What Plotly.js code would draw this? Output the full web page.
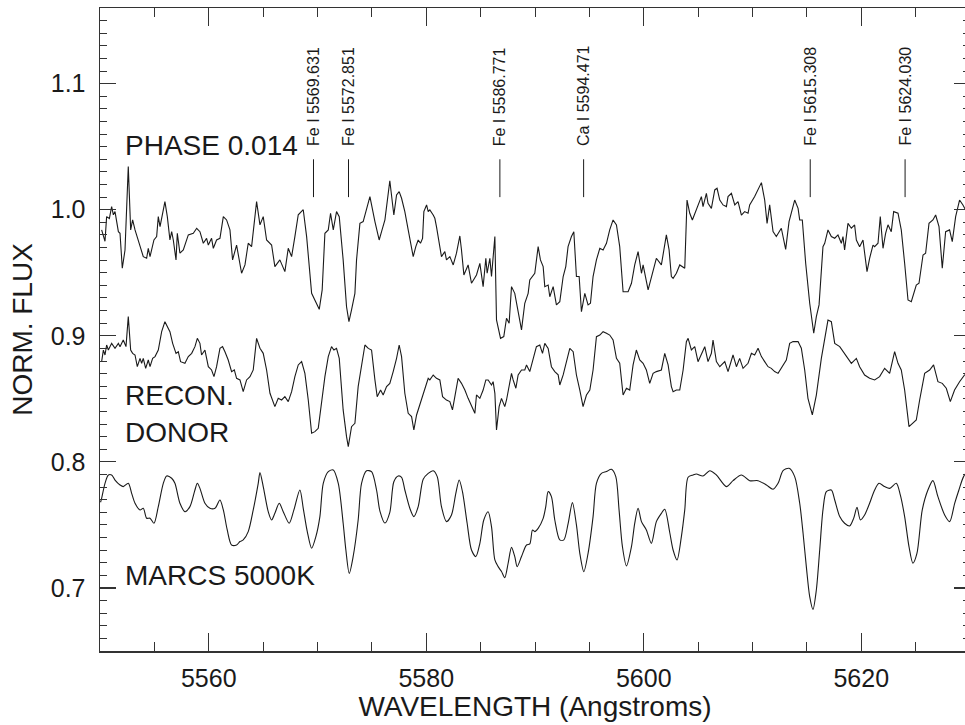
<!DOCTYPE html>
<html><head><meta charset="utf-8">
<script src="https://cdn.plot.ly/plotly-3.0.1.min.js"></script>
<style>html,body{margin:0;padding:0;overflow:hidden;background:#fff;}</style>
</head><body><div id="chart"></div>
<script>
// Observed spectrum at phase 0.014
const wavePhase = [5550.15,5550.46,5550.61,5550.86,5551.07,5551.23,5551.38,5551.69,5551.84,5552.05,5552.30,5552.60,5552.82,5553.00,5553.22,5553.52,5553.68,5553.98,5554.29,5554.44,5554.60,5554.75,5554.96,5555.21,5555.36,5555.52,5555.82,5555.97,5556.19,5556.43,5556.59,5556.74,5556.99,5557.11,5557.35,5557.66,5558.12,5558.58,5558.89,5559.19,5559.50,5559.80,5559.96,5560.26,5560.42,5560.72,5561.03,5561.34,5561.64,5561.95,5562.19,5562.56,5563.02,5563.33,5563.63,5563.94,5564.40,5564.71,5565.01,5565.32,5565.78,5566.08,5566.54,5567.00,5567.31,5567.62,5567.92,5568.23,5568.69,5569.00,5569.46,5570.16,5570.43,5570.68,5570.99,5571.20,5571.45,5571.75,5572.00,5572.36,5572.67,5572.89,5573.13,5573.44,5573.59,5573.90,5574.20,5574.82,5575.28,5575.67,5575.89,5576.20,5576.65,5577.02,5577.27,5577.51,5577.73,5578.03,5578.34,5578.80,5579.04,5579.26,5579.47,5579.66,5579.78,5580.03,5580.18,5580.33,5580.64,5580.79,5580.94,5581.25,5581.40,5581.71,5581.86,5582.17,5582.48,5582.78,5583.09,5583.24,5583.46,5583.85,5584.16,5584.62,5584.93,5585.23,5585.48,5585.60,5585.85,5586.00,5586.31,5586.46,5586.83,5587.13,5587.38,5587.62,5587.84,5588.14,5588.45,5588.76,5589.06,5589.37,5589.52,5589.83,5589.98,5590.29,5590.50,5590.75,5590.90,5591.21,5591.36,5591.67,5591.82,5591.97,5592.28,5592.59,5592.83,5593.04,5593.35,5593.57,5593.81,5594.06,5594.27,5594.58,5594.88,5595.10,5595.34,5595.65,5595.96,5596.26,5596.57,5596.87,5597.18,5597.49,5597.79,5598.10,5598.56,5598.87,5599.17,5599.48,5599.79,5599.94,5600.40,5600.86,5601.16,5601.62,5602.08,5602.33,5602.54,5602.70,5603.00,5603.31,5603.77,5603.98,5604.23,5604.47,5604.69,5604.99,5605.30,5605.45,5605.76,5605.91,5606.22,5606.53,5606.74,5606.99,5607.29,5607.60,5607.75,5608.06,5608.37,5608.67,5608.98,5609.28,5609.59,5609.74,5610.20,5610.82,5611.12,5611.34,5611.58,5611.89,5612.19,5612.65,5613.05,5613.36,5613.88,5614.19,5614.34,5614.58,5614.89,5615.26,5615.63,5615.87,5616.12,5616.48,5616.64,5616.94,5617.25,5617.56,5617.86,5618.17,5618.32,5618.47,5618.78,5619.09,5619.39,5619.55,5619.85,5620.16,5620.53,5620.77,5621.08,5621.23,5621.54,5621.75,5622.00,5622.24,5622.46,5622.76,5622.98,5623.38,5623.68,5623.99,5624.30,5624.60,5625.06,5625.31,5625.68,5625.92,5626.23,5626.59,5626.84,5627.15,5627.45,5627.76,5628.12,5628.37,5628.68,5629.04,5629.35,5629.70,5630.00];
const fluxPhase = [0.984,0.975,0.9945,0.993,1.0024,0.996,0.9985,0.9826,0.9813,0.9536,0.968,1.0342,0.984,0.9919,0.984,0.976,0.9707,0.9628,0.9615,0.9694,0.9628,0.9681,0.976,0.9787,0.9945,0.9866,0.9985,1.0064,0.9945,0.976,0.9826,0.976,0.9602,0.9813,0.9655,0.9681,0.98,0.9813,0.9853,0.9826,0.9734,0.9773,0.972,0.9773,0.9694,0.976,0.9773,0.9945,0.9919,0.984,0.9602,0.972,0.9496,0.9562,0.9734,0.9707,1.0064,0.988,0.9945,0.976,0.972,0.9549,0.9602,0.9509,0.9694,0.9628,0.9787,0.996,1.0,0.9787,0.9337,0.921,0.9364,0.9813,0.984,0.9972,0.984,0.9985,0.9945,0.9602,0.923,0.9113,0.9205,0.9337,0.9602,0.9892,0.9906,1.0104,0.9906,0.976,0.9826,0.992,1.023,0.9958,1.0117,1.0144,1.0091,0.9985,0.984,0.9628,0.9707,0.976,0.9734,0.9773,0.9985,1.0038,0.9985,0.9998,0.9958,0.9932,0.9866,0.9694,0.9628,0.9668,0.9602,0.9628,0.9562,0.9655,0.9792,0.9681,0.9483,0.9562,0.9417,0.9483,0.9575,0.939,0.9615,0.9496,0.9615,0.947,0.9787,0.9126,0.898,0.8994,0.9139,0.9099,0.939,0.9337,0.9179,0.9047,0.9258,0.9337,0.9443,0.9483,0.9496,0.9707,0.9602,0.9549,0.939,0.9403,0.931,0.939,0.9298,0.9245,0.9271,0.947,0.9549,0.9707,0.9787,0.9826,0.947,0.947,0.9192,0.9337,0.9245,0.9258,0.947,0.9602,0.9694,0.9681,0.9734,0.984,0.9919,0.9879,0.9707,0.935,0.935,0.9417,0.9562,0.9668,0.9496,0.9562,0.9364,0.9522,0.9615,0.9562,0.98,0.9681,0.947,0.9456,0.9496,0.9562,0.9536,1.0077,0.9972,0.9919,0.9972,1.0038,1.0104,1.0025,1.013,1.0051,1.0011,1.0157,1.017,1.0077,1.0038,1.0025,1.0104,1.013,1.0038,1.0064,0.9958,0.9985,0.9972,1.0038,1.0104,1.0215,1.0077,0.9892,1.0038,0.9826,0.9787,0.9853,0.9686,0.9906,1.0077,1.0011,0.9919,0.9919,0.9575,0.9258,0.902,0.9152,0.9245,0.9707,0.9734,0.984,0.9787,0.9774,0.98,0.9734,0.9787,0.9681,0.9892,0.9853,0.9879,0.976,0.9707,0.976,0.9509,0.9615,0.972,0.9707,0.9734,0.9945,0.9694,0.9813,0.988,0.9826,0.9985,0.9972,0.984,0.9575,0.9284,0.9271,0.9403,0.9417,0.9641,0.9655,0.9892,0.9919,0.9958,0.9866,0.9536,0.9826,0.984,0.9747,0.9945,1.0077,1.0038,0.998,0.995];

// Reconstructed donor spectrum
const waveRecon = [5550.15,5550.31,5550.46,5550.61,5550.77,5551.07,5551.38,5551.69,5551.84,5552.14,5552.39,5552.60,5552.82,5553.00,5553.22,5553.43,5553.68,5553.83,5553.98,5554.20,5554.44,5554.60,5554.84,5555.06,5555.36,5555.67,5555.97,5556.19,5556.43,5556.68,5556.99,5557.20,5557.41,5557.81,5558.12,5558.43,5558.73,5558.95,5559.19,5559.34,5559.65,5559.96,5560.26,5560.48,5560.72,5561.03,5561.27,5561.49,5561.79,5562.10,5562.35,5562.56,5562.87,5563.17,5563.48,5563.79,5564.09,5564.40,5564.71,5565.01,5565.32,5565.63,5566.08,5566.39,5566.70,5567.00,5567.31,5567.62,5567.92,5568.23,5568.54,5568.84,5569.15,5569.46,5569.76,5570.07,5570.37,5570.68,5570.99,5571.29,5571.51,5571.75,5572.00,5572.36,5572.67,5572.83,5573.13,5573.44,5573.74,5574.05,5574.36,5574.67,5574.97,5575.28,5575.49,5575.80,5576.04,5576.35,5576.65,5576.96,5577.27,5577.51,5577.73,5578.03,5578.34,5578.65,5578.86,5579.11,5579.35,5579.56,5579.87,5580.18,5580.33,5580.64,5580.94,5581.25,5581.50,5581.86,5582.17,5582.41,5582.63,5582.93,5583.24,5583.55,5583.85,5584.16,5584.47,5584.62,5584.93,5585.23,5585.48,5585.69,5586.00,5586.15,5586.31,5586.46,5586.70,5586.92,5587.22,5587.38,5587.62,5587.84,5587.99,5588.24,5588.45,5588.76,5589.06,5589.22,5589.52,5589.83,5590.13,5590.44,5590.69,5590.90,5591.21,5591.51,5591.82,5592.13,5592.28,5592.59,5592.89,5593.20,5593.51,5593.81,5594.12,5594.42,5594.73,5595.04,5595.34,5595.65,5595.96,5596.26,5596.57,5596.87,5597.18,5597.49,5597.79,5598.10,5598.41,5598.71,5599.02,5599.32,5599.63,5599.94,5600.24,5600.55,5600.86,5601.16,5601.62,5601.93,5602.24,5602.54,5602.70,5603.00,5603.31,5603.62,5603.92,5604.08,5604.38,5604.69,5604.99,5605.30,5605.61,5605.91,5606.22,5606.37,5606.68,5606.99,5607.45,5607.75,5608.21,5608.52,5608.82,5609.13,5609.59,5609.90,5610.20,5610.51,5610.82,5611.12,5611.43,5611.73,5612.04,5612.35,5612.81,5613.11,5613.42,5613.73,5614.19,5614.49,5614.80,5615.10,5615.50,5615.87,5616.33,5616.64,5616.94,5617.25,5617.56,5618.02,5618.48,5619.09,5619.55,5619.85,5620.31,5620.77,5621.23,5621.69,5622.15,5622.61,5623.07,5623.38,5623.68,5623.99,5624.39,5624.75,5625.06,5625.37,5625.83,5626.29,5626.65,5627.05,5627.45,5627.82,5628.19,5628.58,5629.04,5629.50,5630.00];
const fluxRecon = [0.8795,0.8887,0.8848,0.8927,0.8887,0.894,0.8901,0.894,0.8914,0.8967,0.8914,0.9152,0.8887,0.8861,0.8848,0.8755,0.8821,0.8782,0.8821,0.8742,0.8808,0.8755,0.8821,0.8835,0.8887,0.9033,0.9112,0.9073,0.9033,0.894,0.8861,0.8874,0.8795,0.8782,0.8835,0.8861,0.8914,0.898,0.894,0.8848,0.8887,0.8755,0.8729,0.8676,0.8755,0.8901,0.8914,0.8874,0.8808,0.8716,0.8729,0.8663,0.865,0.8557,0.865,0.8676,0.8729,0.898,0.8901,0.8861,0.8729,0.8544,0.8438,0.8504,0.8491,0.8517,0.8478,0.8557,0.8676,0.8769,0.8795,0.8702,0.8491,0.8227,0.824,0.8266,0.8491,0.8676,0.8835,0.8914,0.8887,0.8901,0.8821,0.8412,0.82,0.8121,0.8279,0.8306,0.8597,0.8755,0.8927,0.89,0.8887,0.865,0.8517,0.857,0.8531,0.8597,0.8623,0.8716,0.8821,0.8927,0.8835,0.8544,0.8385,0.8359,0.8253,0.8372,0.8438,0.8491,0.857,0.8663,0.865,0.8689,0.8663,0.865,0.8517,0.849,0.8478,0.8412,0.8517,0.8663,0.8623,0.857,0.8504,0.8451,0.8385,0.8531,0.8504,0.857,0.865,0.865,0.861,0.8636,0.8544,0.8253,0.8438,0.8504,0.8438,0.8491,0.861,0.8702,0.865,0.8584,0.869,0.8729,0.8729,0.8769,0.8716,0.8808,0.8914,0.8927,0.8861,0.894,0.89,0.8755,0.8716,0.869,0.861,0.869,0.8795,0.8901,0.8874,0.8689,0.857,0.8438,0.853,0.857,0.8729,0.8993,0.9006,0.9033,0.902,0.9006,0.8967,0.8821,0.8782,0.853,0.8584,0.857,0.8769,0.8887,0.8808,0.8782,0.8729,0.8623,0.8702,0.8716,0.8729,0.8861,0.8769,0.8597,0.8557,0.857,0.857,0.8729,0.8953,0.898,0.8888,0.8914,0.8795,0.8861,0.8914,0.8795,0.8861,0.8967,0.8795,0.8755,0.8795,0.8716,0.8848,0.8755,0.8821,0.8742,0.8782,0.8861,0.8848,0.8901,0.8835,0.8795,0.8755,0.8742,0.8716,0.8702,0.8769,0.8808,0.894,0.8954,0.8954,0.8901,0.8729,0.8504,0.8372,0.853,0.8821,0.8967,0.9125,0.9112,0.894,0.8914,0.8861,0.8782,0.8821,0.8755,0.8689,0.8663,0.865,0.8676,0.8742,0.8702,0.8874,0.8782,0.8729,0.857,0.828,0.8306,0.8332,0.8491,0.8702,0.8729,0.8769,0.8636,0.8623,0.8584,0.8478,0.857,0.8636,0.8689,0.87];

// MARCS 5000K model spectrum
const waveModel = [5550.05,5550.15,5550.46,5550.77,5551.07,5551.38,5551.84,5552.14,5552.60,5552.91,5553.22,5553.68,5553.98,5554.29,5554.60,5554.96,5555.36,5555.82,5556.13,5556.59,5556.89,5557.35,5557.81,5558.27,5558.73,5558.95,5559.19,5559.65,5560.11,5560.57,5561.03,5561.34,5561.70,5562.10,5562.56,5562.87,5563.17,5563.63,5564.09,5564.55,5564.71,5565.01,5565.47,5565.78,5566.08,5566.48,5566.85,5567.40,5567.83,5568.38,5568.69,5569.06,5569.46,5569.85,5570.22,5570.53,5570.99,5571.45,5571.91,5572.36,5572.61,5572.92,5573.28,5573.74,5574.05,5574.51,5574.97,5575.43,5575.74,5576.20,5576.65,5577.02,5577.42,5577.73,5578.03,5578.49,5578.86,5579.26,5579.72,5580.18,5580.64,5581.01,5581.40,5581.86,5582.32,5582.72,5583.03,5583.33,5583.76,5584.16,5584.56,5584.93,5585.29,5585.69,5586.00,5586.31,5586.61,5586.92,5587.22,5587.53,5587.84,5588.14,5588.36,5588.76,5589.22,5589.52,5589.77,5589.98,5590.29,5590.75,5590.99,5591.21,5591.51,5591.82,5592.28,5592.65,5593.05,5593.44,5593.81,5594.12,5594.49,5594.88,5595.34,5595.65,5596.11,5596.57,5597.03,5597.43,5597.73,5598.04,5598.41,5598.87,5599.17,5599.48,5599.79,5600.24,5600.70,5601.16,5601.62,5601.93,5602.39,5602.70,5603.06,5603.46,5603.77,5604.08,5604.53,5604.84,5605.45,5606.07,5606.68,5607.60,5608.21,5608.98,5609.74,5610.51,5611.28,5611.89,5612.35,5612.81,5613.36,5613.88,5614.34,5614.65,5614.95,5615.26,5615.56,5615.87,5616.18,5616.48,5616.79,5617.25,5617.56,5618.02,5618.47,5618.93,5619.30,5619.61,5619.92,5620.31,5620.77,5621.23,5621.63,5622.15,5622.61,5623.22,5623.59,5623.99,5624.39,5624.75,5625.12,5625.61,5626.13,5626.59,5627.05,5627.67,5628.13,5628.59,5628.98,5629.41,5630.00];
const fluxModel = [0.768,0.7711,0.783,0.7896,0.7896,0.7856,0.7817,0.7804,0.783,0.775,0.7672,0.7619,0.7632,0.7553,0.7553,0.7513,0.7645,0.783,0.7888,0.787,0.783,0.7672,0.7605,0.7645,0.7777,0.783,0.779,0.7672,0.7632,0.7632,0.7698,0.7619,0.746,0.7341,0.7341,0.7368,0.7381,0.7447,0.7619,0.783,0.7915,0.7804,0.7605,0.7539,0.7592,0.7672,0.7605,0.7513,0.7619,0.7777,0.7632,0.7447,0.7315,0.7407,0.7566,0.783,0.7923,0.7936,0.783,0.7513,0.7301,0.7116,0.725,0.7539,0.783,0.793,0.7922,0.7777,0.761,0.7515,0.76,0.7843,0.7888,0.7878,0.7777,0.7632,0.7566,0.7645,0.7862,0.7909,0.793,0.7883,0.7645,0.7526,0.7579,0.775,0.7856,0.7764,0.7513,0.7301,0.7249,0.7354,0.7539,0.7605,0.7486,0.7222,0.7169,0.713,0.7082,0.7196,0.7322,0.7248,0.7169,0.7249,0.7341,0.7349,0.746,0.7447,0.7473,0.7552,0.7645,0.7764,0.7724,0.7539,0.7381,0.7381,0.7513,0.7677,0.75,0.7275,0.7129,0.7275,0.7566,0.783,0.7909,0.7923,0.7941,0.7883,0.7619,0.7328,0.7175,0.7328,0.7513,0.7632,0.7526,0.746,0.7354,0.7526,0.7592,0.7624,0.744,0.7301,0.7222,0.7407,0.7619,0.7878,0.7896,0.7904,0.7888,0.793,0.7896,0.7804,0.7851,0.7896,0.7851,0.7851,0.7817,0.7783,0.783,0.793,0.7949,0.7883,0.7672,0.7434,0.7169,0.6931,0.683,0.6984,0.7301,0.7619,0.7764,0.7777,0.7698,0.7566,0.7513,0.7492,0.7552,0.764,0.754,0.7579,0.7672,0.7777,0.783,0.7804,0.779,0.783,0.7738,0.7566,0.7328,0.7196,0.7274,0.7619,0.7777,0.7851,0.7724,0.7579,0.7526,0.7671,0.7777,0.7883,0.795];

// Identified absorption lines
const lineWaves = [5569.631, 5572.851, 5586.771, 5594.471, 5615.308, 5624.030];
const lineLabels = ["Fe I 5569.631", "Fe I 5572.851", "Fe I 5586.771", "Ca I 5594.471", "Fe I 5615.308", "Fe I 5624.030"];

// Spectrum labels
const seriesLabels = ["PHASE 0.014", "RECON.", "DONOR", "MARCS 5000K"];
const seriesLabelY = [1.051, 0.853, 0.823, 0.710];

const FONT = "Liberation Sans, Arial, Helvetica, sans-serif";
const ink = "#1a1a1a";

const traces = [
  {x: wavePhase, y: fluxPhase, mode: "lines", line: {color: ink, width: 1.1}, hoverinfo: "skip"},
  {x: waveRecon, y: fluxRecon, mode: "lines", line: {color: ink, width: 1.1}, hoverinfo: "skip"},
  {x: waveModel, y: fluxModel, mode: "lines", line: {color: ink, width: 1.1, shape: "spline", smoothing: 0.8}, hoverinfo: "skip"}
];

const shapes = lineWaves.map(w => ({type: "line", xref: "x", yref: "y", x0: w, x1: w, y0: 1.010, y1: 1.040, line: {color: ink, width: 1}}));

const annotations = [];
lineWaves.forEach((w, i) => annotations.push({
  x: w, y: 1.049, xref: "x", yref: "y", text: lineLabels[i], showarrow: false,
  textangle: -90, xanchor: "center", yanchor: "bottom", font: {family: FONT, size: 16, color: ink}
}));
seriesLabels.forEach((t, i) => annotations.push({
  x: 5552.1, y: seriesLabelY[i], xref: "x", yref: "y", text: t, showarrow: false,
  xanchor: "left", yanchor: "middle", align: "left", font: {family: FONT, size: 28, color: ink}
}));

const axisCommon = {
  showline: true, linecolor: "#333", linewidth: 1.5, mirror: "ticks", ticks: "inside",
  tickcolor: "#333", showgrid: false, zeroline: false, tickfont: {family: FONT, size: 25, color: ink}
};

const layout = {
  width: 975, height: 725,
  margin: {l: 100, r: 5, t: 8, b: 74},
  paper_bgcolor: "#fff", plot_bgcolor: "#fff",
  showlegend: false,
  font: {family: FONT, color: ink},
  xaxis: Object.assign({}, axisCommon, {
    range: [5550, 5630], tick0: 5560, dtick: 20, ticklen: 18, tickwidth: 1.2,
    minor: {dtick: 5, tick0: 5550, ticklen: 9, ticks: "inside", tickcolor: "#333", tickwidth: 1},
    ticklabelstandoff: 4,
    title: {text: "WAVELENGTH (Angstroms)", font: {family: FONT, size: 28, color: ink}, standoff: 0}
  }),
  yaxis: Object.assign({}, axisCommon, {
    range: [0.65, 1.16], tick0: 0.7, dtick: 0.1, tickformat: ".1f", ticklen: 16, tickwidth: 1.2,
    minor: {dtick: 0.01, tick0: 0.65, ticklen: 7, ticks: "inside", tickcolor: "#333", tickwidth: 1},
    ticklabelstandoff: 8,
    title: {text: "NORM. FLUX", font: {family: FONT, size: 28, color: ink}, standoff: 10}
  }),
  shapes: shapes,
  annotations: annotations
};

Plotly.newPlot("chart", traces, layout, {displayModeBar: false, staticPlot: true});
</script>
</body></html>
